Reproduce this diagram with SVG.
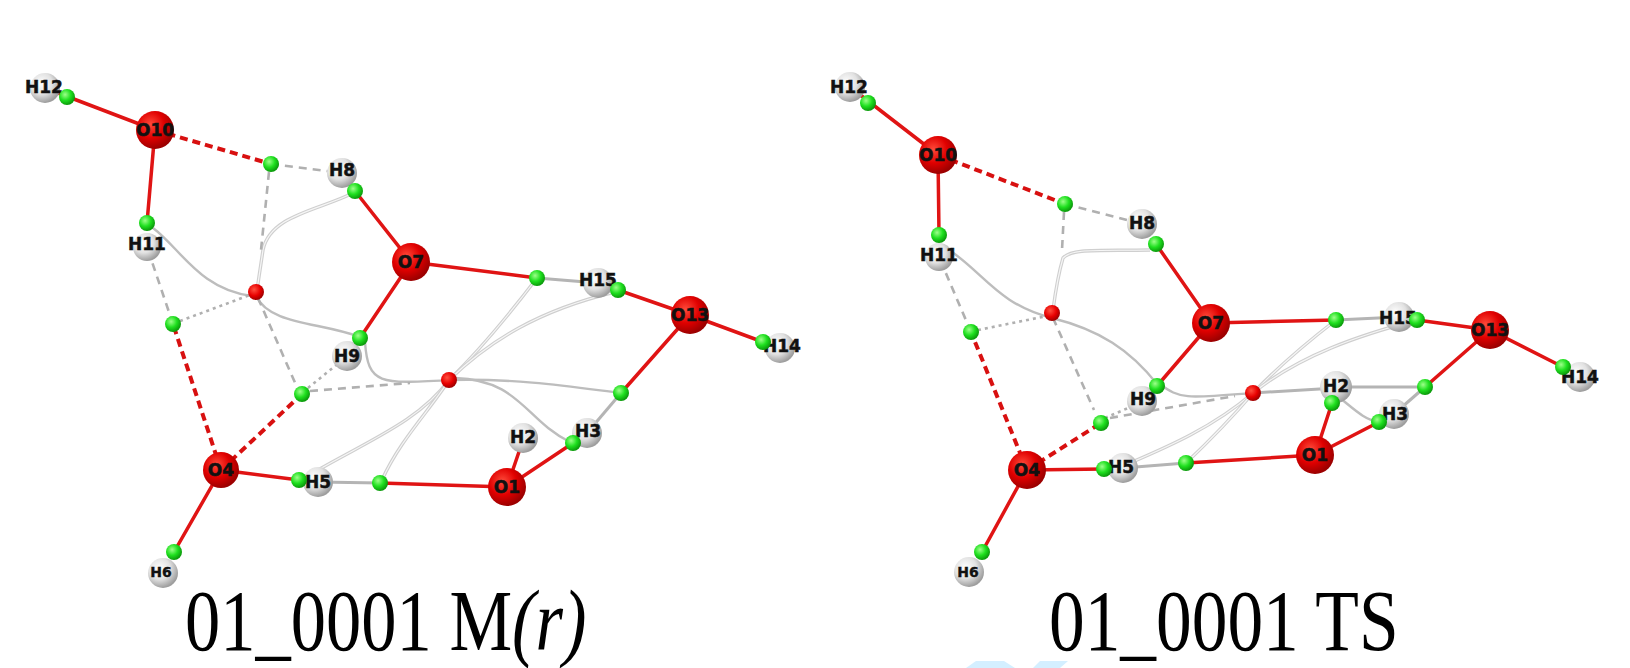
<svg xmlns="http://www.w3.org/2000/svg" width="1630" height="668" viewBox="0 0 1630 668">
<defs>
<radialGradient id="gO" cx="38%" cy="35%" r="65%">
<stop offset="0" stop-color="#ff4a3a"/><stop offset="0.55" stop-color="#e00000"/><stop offset="1" stop-color="#9c0000"/>
</radialGradient>
<radialGradient id="gH" cx="38%" cy="35%" r="65%">
<stop offset="0" stop-color="#ffffff"/><stop offset="0.55" stop-color="#e2e2e2"/><stop offset="1" stop-color="#9e9e9e"/>
</radialGradient>
<radialGradient id="gG" cx="38%" cy="35%" r="65%">
<stop offset="0" stop-color="#9dff8a"/><stop offset="0.55" stop-color="#1fe01f"/><stop offset="1" stop-color="#0b9a0b"/>
</radialGradient>
<radialGradient id="gR" cx="38%" cy="35%" r="65%">
<stop offset="0" stop-color="#ff5040"/><stop offset="0.6" stop-color="#e80000"/><stop offset="1" stop-color="#a00000"/>
</radialGradient>
</defs>
<style>
.b{stroke:#e01414;stroke-width:3.5;fill:none;stroke-linecap:round}
.hb{stroke:#d81010;stroke-width:4;fill:none;stroke-dasharray:8 5}
.g{stroke:#b4b4b4;stroke-width:3;fill:none}
.gd{stroke:#b0b0b0;stroke-width:2.6;fill:none;stroke-dasharray:8 6}
.gt{stroke:#b0b0b0;stroke-width:2.6;fill:none;stroke-dasharray:3 4}
.c{stroke:#bdbdbd;stroke-width:2.4;fill:none}
.rl{stroke:#cfcfcf;stroke-width:3.4;fill:none}
.rli{stroke:#f6f6f6;stroke-width:1.2;fill:none}
.O{fill:url(#gO)}
.H{fill:url(#gH)}
.G{fill:url(#gG)}
.R{fill:url(#gR)}
.lab{font-family:"DejaVu Sans",Verdana,sans-serif;font-weight:bold;font-size:17px;fill:#111;stroke:#111;stroke-width:0.5;text-anchor:middle;dominant-baseline:central}
.labs{font-family:"DejaVu Sans",Verdana,sans-serif;font-weight:bold;font-size:14px;fill:#111;stroke:#111;stroke-width:0.4;text-anchor:middle;dominant-baseline:central}
.title{font-family:"Liberation Serif","Times New Roman",serif;font-size:86px;fill:#000}
</style>
<rect width="1630" height="668" fill="#ffffff"/>

<!-- ============ LEFT: connectors ============ -->
<g id="L-connectors">
<path class="rl" d="M449,380 C480,350 505,320 537,278"/>
<path class="rli" d="M449,380 C480,350 505,320 537,278"/>
<path class="rl" d="M449,380 C490,340 540,310 615,292"/>
<path class="rli" d="M449,380 C490,340 540,310 615,292"/>
<path class="rl" d="M449,380 C420,420 370,440 318,470"/>
<path class="rli" d="M449,380 C420,420 370,440 318,470"/>
<path class="rl" d="M449,380 C430,410 400,440 382,480"/>
<path class="rli" d="M449,380 C430,410 400,440 382,480"/>
<path class="rl" d="M353,193 C320,210 270,215 263,250 L257,290"/>
<path class="rli" d="M353,193 C320,210 270,215 263,250 L257,290"/>
<path class="c" d="M153,228 C180,248 200,290 252,296"/>
<path class="c" d="M256,296 C270,325 320,322 360,337"/>
<path class="c" d="M365,342 C368,385 380,384 449,380"/>
<path class="c" d="M449,380 C520,378 580,388 621,393"/>
<path class="c" d="M455,378 C520,380 525,420 570,442"/>
<line class="g" x1="537" y1="278" x2="598" y2="283"/>
<line class="g" x1="621" y1="393" x2="587" y2="433"/>
<line class="g" x1="380" y1="483" x2="318" y2="482"/>
<line class="gd" x1="271" y1="164" x2="342" y2="173"/>
<line class="gd" x1="173" y1="324" x2="147" y2="247"/>
<line class="gd" x1="269" y1="172" x2="261" y2="250"/>
<line class="gd" x1="258" y1="298" x2="296" y2="385"/>
<line class="gd" x1="310" y1="391" x2="410" y2="383"/>
<line class="gt" x1="180" y1="321" x2="250" y2="295"/>
<line class="gt" x1="308" y1="388" x2="340" y2="362"/>
<line class="b" x1="45" y1="88" x2="155" y2="130"/>
<line class="b" x1="155" y1="130" x2="147" y2="223"/>
<line class="b" x1="355" y1="191" x2="411" y2="262"/>
<line class="b" x1="411" y1="262" x2="360" y2="338"/>
<line class="b" x1="411" y1="262" x2="537" y2="278"/>
<line class="b" x1="618" y1="290" x2="690" y2="315"/>
<line class="b" x1="690" y1="315" x2="763" y2="342"/>
<line class="b" x1="690" y1="315" x2="621" y2="393"/>
<line class="b" x1="573" y1="443" x2="507" y2="487"/>
<line class="b" x1="507" y1="487" x2="523" y2="440"/>
<line class="b" x1="507" y1="487" x2="380" y2="483"/>
<line class="b" x1="299" y1="480" x2="221" y2="470"/>
<line class="b" x1="221" y1="470" x2="174" y2="552"/>
<line class="hb" x1="155" y1="130" x2="271" y2="164"/>
<line class="hb" x1="221" y1="470" x2="173" y2="324"/>
<line class="hb" x1="221" y1="470" x2="302" y2="394"/>
</g>

<!-- ============ LEFT: atoms ============ -->
<g id="L-H12"><circle class="H" cx="45" cy="88" r="15"/><text class="lab" x="44" y="87">H12</text></g>
<g id="L-H11"><circle class="H" cx="147" cy="247" r="14"/><text class="lab" x="147" y="244">H11</text></g>
<g id="L-H8"><circle class="H" cx="342" cy="173" r="15"/><text class="lab" x="342" y="170">H8</text></g>
<g id="L-H9"><circle class="H" cx="347" cy="356" r="15"/><text class="lab" x="347" y="356">H9</text></g>
<g id="L-H15"><circle class="H" cx="598" cy="283" r="15"/><text class="lab" x="598" y="280">H15</text></g>
<g id="L-H14"><circle class="H" cx="780" cy="348" r="15"/><text class="lab" x="782" y="346">H14</text></g>
<g id="L-H3"><circle class="H" cx="587" cy="433" r="15"/><text class="lab" x="588" y="431">H3</text></g>
<g id="L-H2"><circle class="H" cx="523" cy="438" r="15"/><text class="lab" x="523" y="437">H2</text></g>
<g id="L-H5"><circle class="H" cx="318" cy="482" r="15"/><text class="lab" x="318" y="482">H5</text></g>
<g id="L-H6"><circle class="H" cx="163" cy="573" r="15"/><text class="labs" x="161" y="572">H6</text></g>
<g id="L-O10"><circle class="O" cx="155" cy="130" r="19"/><text class="lab" x="155" y="130">O10</text></g>
<g id="L-O7"><circle class="O" cx="411" cy="262" r="19"/><text class="lab" x="411" y="262">O7</text></g>
<g id="L-O13"><circle class="O" cx="690" cy="315" r="19"/><text class="lab" x="690" y="315">O13</text></g>
<g id="L-O1"><circle class="O" cx="507" cy="487" r="19"/><text class="lab" x="507" y="487">O1</text></g>
<g id="L-O4"><circle class="O" cx="221" cy="470" r="18"/><text class="lab" x="221" y="470">O4</text></g>
<g id="L-critical-points">
<circle class="R" cx="256" cy="292" r="8"/>
<circle class="R" cx="449" cy="380" r="8"/>
<circle class="G" cx="67" cy="97" r="8"/>
<circle class="G" cx="147" cy="223" r="8"/>
<circle class="G" cx="271" cy="164" r="8"/>
<circle class="G" cx="355" cy="191" r="8"/>
<circle class="G" cx="360" cy="338" r="8"/>
<circle class="G" cx="537" cy="278" r="8"/>
<circle class="G" cx="618" cy="290" r="8"/>
<circle class="G" cx="763" cy="342" r="8"/>
<circle class="G" cx="621" cy="393" r="8"/>
<circle class="G" cx="573" cy="443" r="8"/>
<circle class="G" cx="380" cy="483" r="8"/>
<circle class="G" cx="299" cy="480" r="8"/>
<circle class="G" cx="174" cy="552" r="8"/>
<circle class="G" cx="173" cy="324" r="8"/>
<circle class="G" cx="302" cy="394" r="8"/>
</g>

<!-- ============ RIGHT: connectors ============ -->
<g id="R-connectors">
<path class="rl" d="M1253,393 C1280,365 1310,340 1336,320"/>
<path class="rli" d="M1253,393 C1280,365 1310,340 1336,320"/>
<path class="rl" d="M1253,393 C1300,355 1360,335 1417,320"/>
<path class="rli" d="M1253,393 C1300,355 1360,335 1417,320"/>
<path class="rl" d="M1253,393 C1210,430 1160,450 1123,466"/>
<path class="rli" d="M1253,393 C1210,430 1160,450 1123,466"/>
<path class="rl" d="M1253,393 C1230,420 1205,445 1186,463"/>
<path class="rli" d="M1253,393 C1230,420 1205,445 1186,463"/>
<path class="rl" d="M1150,250 C1100,251 1072,248 1063,258 C1058,275 1055,295 1053,310"/>
<path class="rli" d="M1150,250 C1100,251 1072,248 1063,258 C1058,275 1055,295 1053,310"/>
<path class="c" d="M952,252 C985,275 1000,305 1052,318 C1100,330 1130,350 1157,384"/>
<path class="c" d="M1160,384 C1180,400 1190,398 1253,393"/>
<line class="g" x1="1253" y1="393" x2="1336" y2="388"/>
<path class="c" d="M1340,398 C1355,410 1365,420 1379,422"/>
<line class="g" x1="1336" y1="320" x2="1399" y2="317"/>
<line class="g" x1="1425" y1="387" x2="1336" y2="387"/>
<line class="g" x1="1425" y1="387" x2="1394" y2="414"/>
<line class="g" x1="1186" y1="463" x2="1123" y2="468"/>
<line class="gd" x1="1065" y1="204" x2="1142" y2="224"/>
<line class="gd" x1="971" y1="332" x2="939" y2="257"/>
<line class="gd" x1="1064" y1="212" x2="1062" y2="250"/>
<line class="gd" x1="1053" y1="318" x2="1094" y2="410"/>
<line class="gd" x1="1110" y1="418" x2="1235" y2="396"/>
<line class="gt" x1="978" y1="330" x2="1047" y2="316"/>
<line class="gt" x1="1105" y1="418" x2="1135" y2="405"/>
<line class="b" x1="850" y1="87" x2="938" y2="155"/>
<line class="b" x1="938" y1="155" x2="939" y2="235"/>
<line class="b" x1="1156" y1="244" x2="1211" y2="323"/>
<line class="b" x1="1211" y1="323" x2="1157" y2="386"/>
<line class="b" x1="1211" y1="323" x2="1336" y2="320"/>
<line class="b" x1="1417" y1="320" x2="1490" y2="330"/>
<line class="b" x1="1490" y1="330" x2="1563" y2="367"/>
<line class="b" x1="1490" y1="330" x2="1425" y2="387"/>
<line class="b" x1="1315" y1="455" x2="1332" y2="403"/>
<line class="b" x1="1315" y1="455" x2="1379" y2="422"/>
<line class="b" x1="1315" y1="455" x2="1186" y2="463"/>
<line class="b" x1="1104" y1="469" x2="1027" y2="470"/>
<line class="b" x1="1027" y1="470" x2="982" y2="552"/>
<line class="hb" x1="938" y1="155" x2="1065" y2="204"/>
<line class="hb" x1="1027" y1="470" x2="971" y2="332"/>
<line class="hb" x1="1027" y1="470" x2="1101" y2="423"/>
</g>

<!-- ============ RIGHT: atoms ============ -->
<g id="R-H12"><circle class="H" cx="850" cy="87" r="15"/><text class="lab" x="849" y="87">H12</text></g>
<g id="R-H11"><circle class="H" cx="939" cy="257" r="14"/><text class="lab" x="939" y="255">H11</text></g>
<g id="R-H8"><circle class="H" cx="1142" cy="224" r="15"/><text class="lab" x="1142" y="223">H8</text></g>
<g id="R-H9"><circle class="H" cx="1142" cy="401" r="15"/><text class="lab" x="1143" y="399">H9</text></g>
<g id="R-H15"><circle class="H" cx="1399" cy="317" r="15"/><text class="lab" x="1398" y="318">H15</text></g>
<g id="R-H14"><circle class="H" cx="1580" cy="377" r="15"/><text class="lab" x="1580" y="377">H14</text></g>
<g id="R-H3"><circle class="H" cx="1394" cy="414" r="15"/><text class="lab" x="1395" y="414">H3</text></g>
<g id="R-H2"><circle class="H" cx="1336" cy="387" r="16"/><text class="lab" x="1336" y="386">H2</text></g>
<g id="R-H5"><circle class="H" cx="1123" cy="468" r="15"/><text class="lab" x="1121" y="467">H5</text></g>
<g id="R-H6"><circle class="H" cx="969" cy="572" r="15"/><text class="labs" x="968" y="572">H6</text></g>
<g id="R-O10"><circle class="O" cx="938" cy="155" r="19"/><text class="lab" x="938" y="155">O10</text></g>
<g id="R-O7"><circle class="O" cx="1211" cy="323" r="19"/><text class="lab" x="1211" y="323">O7</text></g>
<g id="R-O13"><circle class="O" cx="1490" cy="330" r="19"/><text class="lab" x="1490" y="330">O13</text></g>
<g id="R-O1"><circle class="O" cx="1315" cy="455" r="19"/><text class="lab" x="1315" y="455">O1</text></g>
<g id="R-O4"><circle class="O" cx="1027" cy="470" r="19"/><text class="lab" x="1027" y="470">O4</text></g>
<g id="R-critical-points">
<circle class="R" cx="1052" cy="313" r="8"/>
<circle class="R" cx="1253" cy="393" r="8"/>
<circle class="G" cx="868" cy="103" r="8"/>
<circle class="G" cx="939" cy="235" r="8"/>
<circle class="G" cx="1065" cy="204" r="8"/>
<circle class="G" cx="1156" cy="244" r="8"/>
<circle class="G" cx="1157" cy="386" r="8"/>
<circle class="G" cx="1336" cy="320" r="8"/>
<circle class="G" cx="1417" cy="320" r="8"/>
<circle class="G" cx="1563" cy="367" r="8"/>
<circle class="G" cx="1425" cy="387" r="8"/>
<circle class="G" cx="1332" cy="403" r="8"/>
<circle class="G" cx="1379" cy="422" r="8"/>
<circle class="G" cx="1186" cy="463" r="8"/>
<circle class="G" cx="1104" cy="469" r="8"/>
<circle class="G" cx="982" cy="552" r="8"/>
<circle class="G" cx="971" cy="332" r="8"/>
<circle class="G" cx="1101" cy="423" r="8"/>
</g>

<g id="captions">
<text class="title" transform="translate(185,650) scale(0.82,1)">01_0001 M<tspan font-style="italic">(r)</tspan></text>
<text class="title" transform="translate(1049,650) scale(0.83,1)">01_0001 TS</text>
</g>
<g id="watermark" fill="#d4efff">
<polygon points="966,668 976,661 1004,661 1015,668"/>
<polygon points="1033,668 1040,661 1068,661 1060,668"/>
</g>
</svg>
